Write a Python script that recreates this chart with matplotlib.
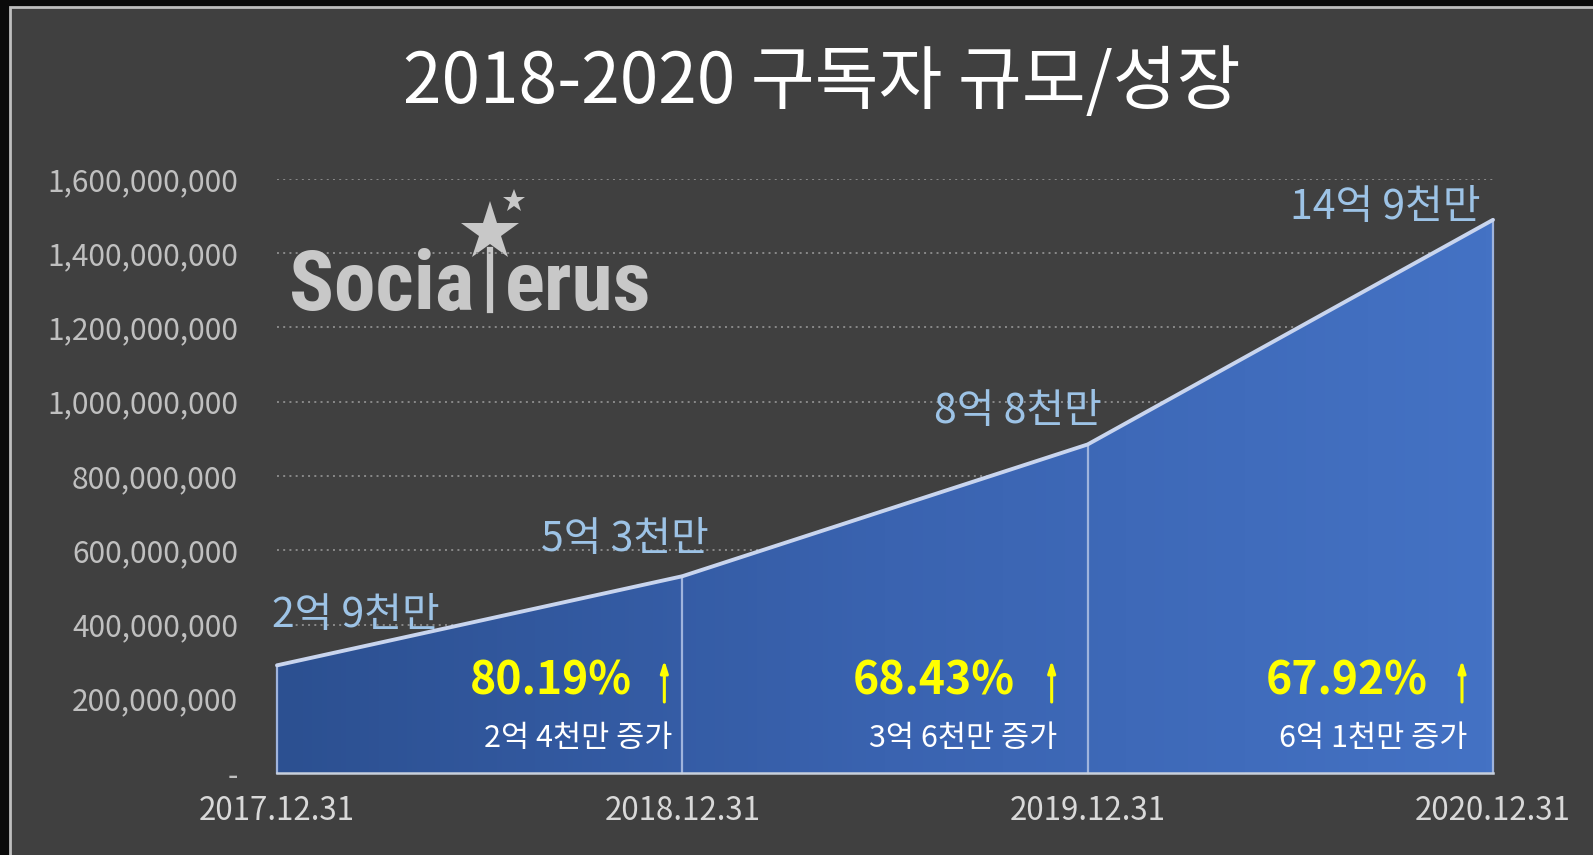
import numpy as np
import matplotlib
matplotlib.use("Agg")
import matplotlib.pyplot as plt
import matplotlib.transforms as mtrans
from matplotlib.colors import LinearSegmentedColormap
from matplotlib.patches import Polygon, Rectangle
from matplotlib.lines import Line2D
from matplotlib.ticker import FuncFormatter
from matplotlib import font_manager as fm

# ---------------- data ----------------
dates = ["2017.12.31", "2018.12.31", "2019.12.31", "2020.12.31"]
subscribers = [290e6, 530e6, 885e6, 1490e6]
value_labels = ["2억 9천만", "5억 3천만", "8억 8천만", "14억 9천만"]
growth_pct = ["80.19%", "68.43%", "67.92%"]
growth_abs = ["2억 4천만 증가", "3억 6천만 증가", "6억 1천만 증가"]
y_ticks = [0, 200e6, 400e6, 600e6, 800e6, 1000e6, 1200e6, 1400e6, 1600e6]
title = "2018-2020 구독자 규모/성장"

# ---------------- style ----------------
KR = ["Noto Sans CJK KR", "DejaVu Sans"]
plt.rcParams["font.family"] = KR
names = {f.name for f in fm.fontManager.ttflist}
logo_font = next((n for n in ["Liberation Sans Narrow", "Roboto Condensed", "Roboto", "DejaVu Sans"] if n in names))

W, H, DPI = 1593, 855, 100
fig = plt.figure(figsize=(W / DPI, H / DPI), dpi=DPI, facecolor="#0b0b0b")

def fx(px):
    return px / W

def fy(py):
    return 1 - py / H

# panel frame
fig.patches.append(Rectangle((fx(10), -0.05), 1.1, fy(7) + 0.05, transform=fig.transFigure,
                             facecolor="#404040", edgecolor="#bfbfbf", linewidth=2, zorder=-5))

ax = fig.add_axes([fx(277), fy(773), fx(1493) - fx(277), fy(179) - fy(773)], zorder=2)
ax.set_facecolor("none")
ax.patch.set_alpha(0)
x = np.arange(len(dates))
ax.set_xlim(x[0], x[-1])
ax.set_ylim(0, y_ticks[-1])
for s in ax.spines.values():
    s.set_visible(False)

# grid
ax.set_yticks(y_ticks)
ax.yaxis.grid(True, linestyle=(0, (1, 2.2)), color="#8a8a8a", linewidth=1.4, zorder=1)
ax.xaxis.grid(False)
ax.set_axisbelow(True)
ax.tick_params(length=0)
ax.yaxis.set_major_formatter(FuncFormatter(lambda v, p: "-" if v == 0 else f"{int(v):,}"))
ax.tick_params(axis="y", pad=28, labelsize=21.5, labelcolor="#c0c0c0")
ax.set_xticks(x)
ax.set_xticklabels(dates)
ax.tick_params(axis="x", pad=16, labelsize=22.5, labelcolor="#d9d9d9")
for lab in ax.get_xticklabels():
    lab.set_fontweight("medium")

# gradient area
verts = [(x[0], 0)] + list(zip(x, subscribers)) + [(x[-1], 0)]
poly = Polygon(verts, closed=True, facecolor="none", edgecolor="none")
ax.add_patch(poly)
cmap = LinearSegmentedColormap.from_list("g", ["#2c5091", "#3a63b0", "#4472c4"])
grad = np.linspace(0, 1, 256).reshape(1, -1)
im = ax.imshow(grad, extent=[x[0], x[-1], 0, y_ticks[-1]], aspect="auto", cmap=cmap,
               origin="lower", zorder=2, interpolation="bicubic")
im.set_clip_path(poly)

# outlines
ax.plot(x, subscribers, color="#c9d5ee", linewidth=2.8, zorder=4, clip_on=False, solid_capstyle="round")
ax.plot([x[0], x[-1]], [0, 0], color="#c8d0dc", linewidth=1.8, zorder=4, clip_on=False)
for i in range(len(x)):
    ax.plot([x[i], x[i]], [0, subscribers[i]], color="#9fb4dd", linewidth=1.6, zorder=3, clip_on=False)

# value labels
val_offsets = [(-5, 50, "left"), (27, 37, "right"), (14, 33, "right"), (-12, 12, "right")]
for i, lab in enumerate(value_labels):
    dx, dy, ha = val_offsets[i]
    ax.annotate(lab, (x[i], subscribers[i]), xytext=(dx, dy), textcoords="offset pixels",
                ha=ha, va="center", fontsize=29.5, color="#9dc3e6", zorder=6)

# growth labels
pct_dx = [-50, -73, -65]
arr_dx = [-18, -36, -31]
sub_dx = [-10, -30, -26]
tr = ax.get_xaxis_transform()
for i in range(len(growth_pct)):
    xe = x[i + 1]
    ax.annotate(growth_pct[i], (xe, 0.1566), xycoords=tr, xytext=(pct_dx[i], -2),
                textcoords="offset pixels", ha="right", va="center", fontsize=32,
                fontweight="bold", color="#ffff00", zorder=6)
    off = tr + mtrans.ScaledTranslation(arr_dx[i] / DPI, 0, fig.dpi_scale_trans)
    ax.annotate("", xy=(xe, 0.190), xycoords=off, xytext=(xe, 0.1195), textcoords=off,
                zorder=6,
                arrowprops=dict(arrowstyle="-|>,head_length=0.7,head_width=0.22",
                                color="#ffff00", lw=2.2, shrinkA=0, shrinkB=0))
    ax.annotate(growth_abs[i], (xe, 0.0589), xycoords=tr, xytext=(sub_dx[i], 0),
                textcoords="offset pixels", ha="right", va="center", fontsize=22,
                color="white", zorder=6)

# title
fig.text(fx(822), fy(83), title, ha="center", va="center", fontsize=50, color="white",
         fontweight="medium")

# logo
logo_col = "#c8c8c8"
fig.text(fx(289), fy(310), "Socia", ha="left", va="baseline", fontsize=60, fontweight="bold",
         family=logo_font, color=logo_col)
fig.text(fx(505), fy(310), "erus", ha="left", va="baseline", fontsize=60, fontweight="bold",
         family=logo_font, color=logo_col)
fig.add_artist(Line2D([fx(490), fx(490)], [fy(250), fy(310)], transform=fig.transFigure,
                      color=logo_col, linewidth=4.5))
fig.add_artist(Line2D([fx(490)], [fy(232)], transform=fig.transFigure, marker="*",
                      markersize=44, color=logo_col, markeredgewidth=0))
fig.add_artist(Line2D([fx(514)], [fy(201)], transform=fig.transFigure, marker="*",
                      markersize=17, color=logo_col, markeredgewidth=0))

fig.savefig("out.png", dpi=DPI, facecolor=fig.get_facecolor())
